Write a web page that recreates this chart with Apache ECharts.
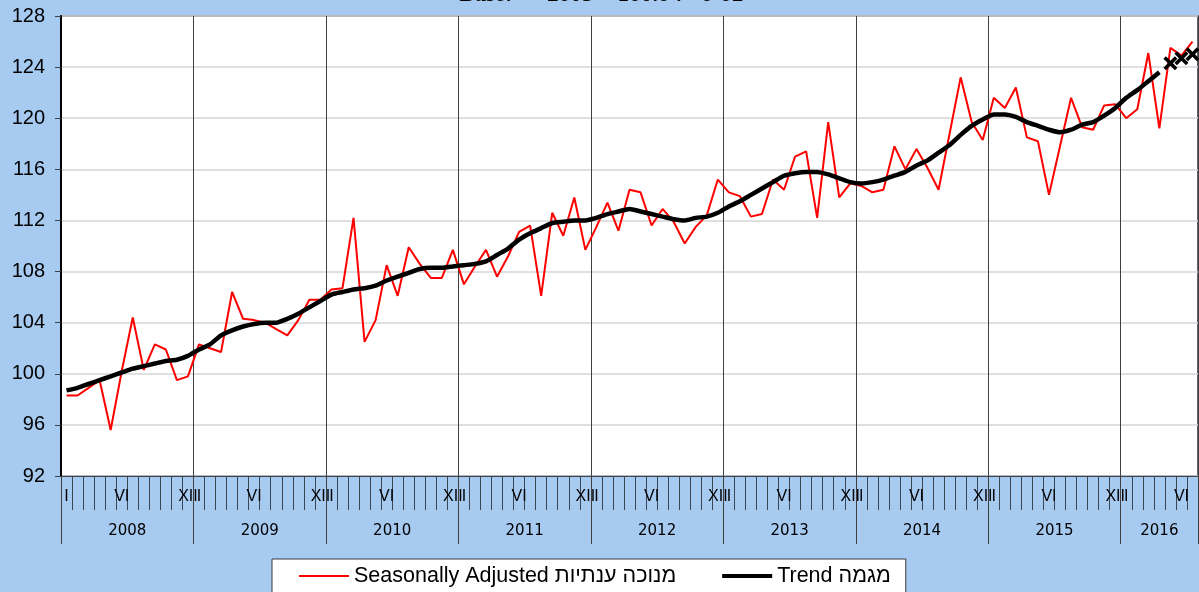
<!DOCTYPE html>
<html>
<head>
<meta charset="utf-8">
<script src="https://cdn.jsdelivr.net/npm/echarts@6/dist/echarts.min.js"></script>
<style>
html, body { margin: 0; padding: 0; background: #a6caf0; }
#myechart { width: 1199px; height: 592px; }
</style>
</head>
<body>
<div id="myechart"></div>
<script>
// axis labels
var years = ['2008', '2009', '2010', '2011', '2012', '2013', '2014', '2015', '2016'];
var romanMonths = ['I', 'II', 'III', 'IV', 'V', 'VI', 'VII', 'VIII', 'IX', 'X', 'XI', 'XII'];
var shownMonths = { 0: 'I', 5: 'VI', 11: 'XII' };
var monthsInLastYear = 7;
var yMin = 92, yMax = 128, yStep = 4;

var titleText = 'Base:      2005 = 100.0 :   בסיס';
var saName = 'Seasonally Adjusted מנוכה ענתיות';
var trendName = 'Trend מגמה';

// seasonally adjusted, Jan 2008 - Jul 2016
var saValues = [
  98.3, 98.3, 98.9, 99.5, 95.6, 100.2, 104.4, 100.3, 102.3, 101.9, 99.5, 99.8,
  102.3, 102.0, 101.7, 106.4, 104.3, 104.2, 104.0, 103.5, 103.0, 104.2, 105.8, 105.8,
  106.6, 106.7, 112.2, 102.5, 104.2, 108.5, 106.1, 109.9, 108.6, 107.5, 107.5, 109.7,
  107.0, 108.4, 109.7, 107.6, 109.2, 111.1, 111.6, 106.1, 112.6, 110.8, 113.8, 109.7,
  111.5, 113.4, 111.2, 114.4, 114.2, 111.6, 112.9, 111.9, 110.2, 111.5, 112.4, 115.2,
  114.2, 113.9, 112.3, 112.5, 115.2, 114.4, 117.0, 117.4, 112.2, 119.7, 113.8, 114.9,
  114.7, 114.2, 114.4, 117.8, 116.0, 117.6, 116.1, 114.4, 118.8, 123.2, 119.7, 118.3,
  121.6, 120.8, 122.4, 118.5, 118.2, 114.0, 117.8, 121.6, 119.3, 119.1, 121.0, 121.1,
  120.0, 120.7, 125.1, 119.2, 125.5, 124.9, 126.0
];

// trend, Jan 2008 - Apr 2016
var trendValues = [
  98.7, 98.9, 99.2, 99.5, 99.8, 100.1, 100.4, 100.6, 100.8, 101.0, 101.1, 101.4,
  101.9, 102.3, 103.0, 103.4, 103.7, 103.9, 104.0, 104.0, 104.3, 104.7, 105.2, 105.7,
  106.2, 106.4, 106.6, 106.7, 106.9, 107.3, 107.6, 107.9, 108.2, 108.3, 108.3, 108.4,
  108.5, 108.6, 108.8, 109.3, 109.8, 110.5, 111.0, 111.4, 111.8, 111.9, 112.0, 112.0,
  112.2, 112.5, 112.7, 112.9, 112.7, 112.5, 112.3, 112.1, 112.0, 112.2, 112.3, 112.6,
  113.1, 113.5, 114.0, 114.5, 115.0, 115.5, 115.7, 115.8, 115.8, 115.6, 115.3, 115.0,
  114.9, 115.0, 115.2, 115.5, 115.8, 116.3, 116.7, 117.3, 117.9, 118.7, 119.4, 119.9,
  120.3, 120.3, 120.1, 119.7, 119.4, 119.1, 118.9, 119.1, 119.5, 119.7, 120.2, 120.8,
  121.6, 122.2, 122.9, 123.6
];

// last trend months, drawn as X marks
var trendEndValues = [124.3, 124.7, 125.0];

var months = [];
for (var y = 0; y < years.length; y++) {
  var count = (y === years.length - 1) ? monthsInLastYear : 12;
  for (var m = 0; m < count; m++) {
    months.push(years[y] + ' ' + romanMonths[m]);
  }
}

var endData = [];
for (var i = 0; i < trendValues.length; i++) endData.push(null);
endData = endData.concat(trendEndValues);

function isYearStart(index) {
  return index % 12 === 0;
}

var xMark = 'path://M0,1.8L1.8,0L5,3.2L8.2,0L10,1.8L6.8,5L10,8.2L8.2,10L5,6.8L1.8,10L0,8.2L3.2,5Z';

var myechart = echarts.init(document.getElementById('myechart'));

myechart.setOption({
  backgroundColor: '#a6caf0',
  animation: false,
  title: {
    text: titleText,
    left: 460,
    top: -16,
    padding: 0,
    textStyle: { fontFamily: 'Liberation Serif', fontSize: 23, fontWeight: 'bold', fontStyle: 'italic', color: '#000' }
  },
  legend: {
    data: [
      { name: saName, itemStyle: { opacity: 0 }, lineStyle: { color: '#ff0000', width: 2 } },
      { name: trendName, itemStyle: { opacity: 0 }, lineStyle: { color: '#000', width: 4 } }
    ],
    left: 272,
    top: 559,
    padding: [6, 15, 10, 26],
    itemGap: 44,
    itemWidth: 50,
    itemHeight: 14,
    backgroundColor: '#fff',
    borderColor: '#3a3a3a',
    borderWidth: 1,
    borderRadius: 0,
    textStyle: { fontFamily: 'Liberation Sans', fontSize: 21.5, color: '#000' }
  },
  grid: {
    left: 61,
    right: 1,
    top: 16,
    bottom: 116,
    show: true,
    backgroundColor: '#fff',
    borderColor: '#5b6571',
    borderWidth: 2
  },
  xAxis: [{
    type: 'category',
    data: months,
    boundaryGap: true,
    axisLine: { show: true, lineStyle: { color: '#3c4652', width: 1 } },
    axisTick: { show: true, interval: 0, length: 34, lineStyle: { color: '#3c4652', width: 1 } },
    axisLabel: {
      interval: 0,
      margin: 13,
      fontFamily: 'Liberation Sans',
      fontSize: 16,
      color: '#000',
      formatter: function (value, index) {
        return shownMonths[index % 12] || '';
      }
    },
    splitLine: { show: false }
  }, {
    type: 'category',
    data: months,
    position: 'bottom',
    boundaryGap: true,
    axisLine: { show: false },
    axisTick: { show: true, interval: isYearStart, length: 68, lineStyle: { color: '#404040', width: 1 } },
    axisLabel: {
      interval: 0,
      margin: 48,
      fontFamily: 'DejaVu Sans',
      fontSize: 15,
      color: '#000',
      formatter: function (value, index) {
        var y = Math.floor(index / 12), m = index % 12;
        if (y < years.length - 1 && m === 6) return '{a|' + years[y] + '}';
        if (y === years.length - 1 && m === 3) return '{b|' + years[y] + '}';
        return '';
      },
      rich: {
        a: { fontFamily: 'DejaVu Sans', fontSize: 15, padding: [0, 11, 0, 0] },
        b: { fontFamily: 'DejaVu Sans', fontSize: 15 }
      }
    },
    splitLine: { show: true, interval: isYearStart, lineStyle: { color: '#404040', width: 1 } }
  }],
  yAxis: {
    type: 'value',
    min: yMin,
    max: yMax,
    interval: yStep,
    axisLine: { show: true, lineStyle: { color: '#000', width: 2 } },
    axisTick: { show: true, length: 6, lineStyle: { color: '#404040' } },
    axisLabel: { margin: 16, fontFamily: 'Liberation Sans', fontSize: 20, color: '#000' },
    splitLine: { lineStyle: { color: '#d6d6d6', width: 1.5 } }
  },
  series: [{
    name: saName,
    type: 'line',
    data: saValues,
    symbol: 'none',
    color: '#ff0000',
    lineStyle: { color: '#ff0000', width: 2 }
  }, {
    name: trendName,
    type: 'line',
    data: trendValues,
    symbol: 'none',
    smooth: 0.2,
    color: '#000',
    lineStyle: { color: '#000', width: 4.5 }
  }, {
    name: 'trend end',
    type: 'line',
    data: endData,
    symbol: xMark,
    symbolSize: 14,
    showAllSymbol: true,
    itemStyle: { color: '#000' },
    lineStyle: { width: 0, opacity: 0 }
  }]
});
</script>
</body>
</html>
